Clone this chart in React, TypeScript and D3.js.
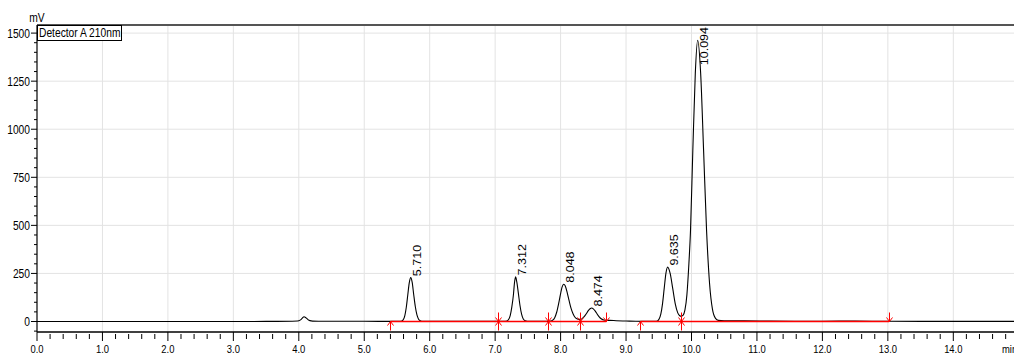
import React from 'react';
import * as d3 from 'd3';

// chromatogram trace: [time (min), signal (mV)]
const trace: [number, number][] = [
  [0.0, 0], [1.0, 0], [2.0, 0], [3.0, 0], [3.5, 0.5], [3.9, 1.5], [3.98, 2.5],
  [4.02, 7], [4.05, 16], [4.08, 25], [4.11, 19], [4.14, 10], [4.17, 4.5], [4.21, 2],
  [4.3, 1.5], [4.6, 1.5], [5.0, 1], [5.4, 0.5], [5.53, 0.5],
  [5.575, 2.5], [5.5975, 10], [5.62, 31], [5.6425, 74], [5.665, 138], [5.6875, 201],
  [5.71, 228], [5.7325, 203], [5.755, 142], [5.78, 78], [5.805, 34], [5.83, 12],
  [5.855, 4], [5.9, 1], [6.0, 0.5], [6.5, 1.5], [7.0, 0.5], [7.13, 0.5],
  [7.18, 3], [7.205, 10], [7.23, 31], [7.255, 76], [7.28, 142], [7.295, 200],
  [7.312, 232], [7.33, 207], [7.355, 146], [7.38, 82], [7.405, 37], [7.43, 13],
  [7.46, 4], [7.52, 1], [7.7, 0.5], [7.8, 0.5],
  [7.85, 2], [7.88, 7], [7.91, 20], [7.94, 48], [7.97, 93], [8.0, 145], [8.02, 176],
  [8.048, 194], [8.07, 186], [8.1, 152], [8.13, 108], [8.16, 68], [8.19, 40],
  [8.22, 22], [8.25, 14], [8.28, 11], [8.3, 11], [8.33, 15], [8.36, 25], [8.39, 39],
  [8.42, 55], [8.45, 66], [8.474, 70], [8.5, 66], [8.53, 54], [8.56, 38], [8.59, 24],
  [8.62, 14], [8.66, 8], [8.7, 6], [8.75, 6], [8.85, 4], [9.0, 2.5], [9.15, 1],
  [9.3, 0.5], [9.44, 1], [9.479, 3], [9.505, 12.5], [9.531, 38], [9.557, 92],
  [9.583, 172], [9.609, 250], [9.635, 283], [9.674, 250], [9.713, 172], [9.752, 92],
  [9.79, 45], [9.82, 30], [9.84, 27], [9.87, 32], [9.9, 60], [9.93, 140], [9.96, 300],
  [9.985, 475], [10.02, 888], [10.058, 1290], [10.094, 1463], [10.14, 1290],
  [10.185, 888], [10.23, 475], [10.276, 198], [10.32, 64], [10.367, 16], [10.41, 6],
  [10.5, 4], [10.8, 3], [11.2, 2], [12.0, 1.5], [12.5, 2], [13.0, 1], [14.0, 0.5],
  [15.0, 0.5],
];

const peakTimes = [5.71, 7.312, 8.048, 8.474, 9.635, 10.094];
const peakLabels = ['5.710', '7.312', '8.048', '8.474', '9.635', '10.094'];

// integration baselines (start, end) for each peak
const baseStarts = [5.4, 7.05, 7.8, 8.3, 9.22, 9.84];
const baseEnds = [7.05, 7.8, 8.3, 8.7, 9.84, 13.02];

const xTicks = [0, 1, 2, 3, 4, 5, 6, 7, 8, 9, 10, 11, 12, 13, 14];
const yTicks = [0, 250, 500, 750, 1000, 1250, 1500];

const W = 1014;
const H = 354;
const left = 37;
const top = 25;
const bottom = 332;
const font = '"Liberation Sans", Arial, sans-serif';

export default function App() {
  const x = d3.scaleLinear().domain([0, 1]).range([left, left + 65.45]);
  const y = d3.scaleLinear().domain([0, 1500]).range([321.5, 33.1]);
  const right = W + 10;

  const line = d3
    .line<[number, number]>()
    .x((d) => x(d[0]))
    .y((d) => y(d[1]))
    .curve(d3.curveMonotoneX);

  const minorX = d3.range(0, 15.01, 0.2).filter((v) => x(v) < W);
  const minorY = d3.range(-50, 1501, 50);
  const y0 = y(0);

  const upArrow = (t: number, key: string) => {
    const px = Math.round(x(t)) + 0.5;
    return (
      <g key={key} stroke="#ff0000" strokeWidth={1} fill="none">
        <line x1={px} x2={px} y1={y0} y2={y0 + 9} />
        <polyline points={`${px - 3},${y0 + 4} ${px},${y0} ${px + 3},${y0 + 4}`} />
      </g>
    );
  };
  const downArrow = (t: number, key: string) => {
    const px = Math.round(x(t)) + 0.5;
    return (
      <g key={key} stroke="#ff0000" strokeWidth={1} fill="none">
        <line x1={px} x2={px} y1={y0 - 9} y2={y0} />
        <polyline points={`${px - 3},${y0 - 4} ${px},${y0} ${px + 3},${y0 - 4}`} />
      </g>
    );
  };

  const apex = (t: number) => {
    const p = trace.reduce((a, b) => (Math.abs(b[0] - t) < Math.abs(a[0] - t) ? b : a));
    return p[1];
  };

  return (
    <div style={{ position: 'absolute', left: 0, top: 0 }}>
      <svg width={W} height={H} style={{ display: 'block', background: '#fff' }}>
        {/* grid */}
        {xTicks.filter((t) => t > 0).map((t) => (
          <line key={'gx' + t} x1={x(t)} x2={x(t)} y1={top} y2={bottom} stroke="#e3e3e3" />
        ))}
        {yTicks.filter((t) => t > 0).map((t) => (
          <line key={'gy' + t} x1={left} x2={right} y1={y(t)} y2={y(t)} stroke="#e3e3e3" />
        ))}

        {/* frame */}
        <line x1={left} x2={right} y1={top} y2={top} stroke="#555" strokeWidth={2} />
        <line x1={left} x2={left} y1={top} y2={bottom} stroke="#000" strokeWidth={1.2} />
        <line x1={left} x2={right} y1={bottom} y2={bottom} stroke="#000" strokeWidth={1.5} />

        {/* y ticks */}
        {minorY.map((v) => {
          const major = v % 250 === 0;
          return (
            <line key={'ty' + v} x1={left - (major ? 6 : 3)} x2={left} y1={y(v)} y2={y(v)} stroke="#000" />
          );
        })}
        {yTicks.map((v) => (
          <text key={'ly' + v} transform={`translate(${left - 7},${y(v) + 4.5}) scale(0.82,1)`}
            textAnchor="end" fontFamily={font} fontSize={12.5} fill="#000">{v}</text>
        ))}
        <text transform={`translate(${left},22) scale(0.82,1)`} textAnchor="middle" fontFamily={font} fontSize={12.5}>mV</text>

        {/* x ticks */}
        {minorX.map((v) => {
          const major = Math.abs(v - Math.round(v)) < 1e-6;
          return (
            <line key={'tx' + v.toFixed(1)} x1={x(v)} x2={x(v)} y1={bottom + (major ? 0 : 2)} y2={bottom + (major ? 9 : 7)} stroke="#000" />
          );
        })}
        {xTicks.map((v) => (
          <text key={'lx' + v} transform={`translate(${x(v)},352.5) scale(0.82,1)`}
            textAnchor="middle" fontFamily={font} fontSize={11.5}>{v.toFixed(1)}</text>
        ))}
        <text transform={`translate(1002,352.5) scale(0.82,1)`} fontFamily={font} fontSize={11.5}>min</text>

        {/* trace */}
        <path d={line(trace) || ''} fill="none" stroke="#000" strokeWidth={1.1} />

        {/* integration baselines */}
        {baseStarts.map((s, i) => (
          <line key={'b' + i} x1={x(s)} x2={x(baseEnds[i])} y1={y0} y2={y0} stroke="#ff0000" strokeWidth={1.5} />
        ))}
        {baseStarts.map((s, i) => upArrow(s, 'u' + i))}
        {baseEnds.map((e, i) => downArrow(e, 'd' + i))}

        {/* peak labels */}
        {peakTimes.map((t, i) => {
          const len = peakLabels[i].length * 6.2;
          const ty = Math.max(y(apex(t)) - 1.5, top + 3 + len);
          return (
            <text key={'pl' + i} transform={`translate(${x(t) + 10},${ty}) rotate(-90) scale(1,0.82)`}
              fontFamily={font} fontSize={12.5} fill="#000">{peakLabels[i]}</text>
          );
        })}

        {/* legend box */}
        <rect x={left + 0.5} y={top + 0.5} width={84} height={15} fill="#fff" stroke="#000" strokeWidth={1} />
        <text transform={`translate(${left + 2},${top + 12}) scale(0.82,1)`} fontFamily={font} fontSize={12.5}>Detector A 210nm</text>
      </svg>
    </div>
  );
}
